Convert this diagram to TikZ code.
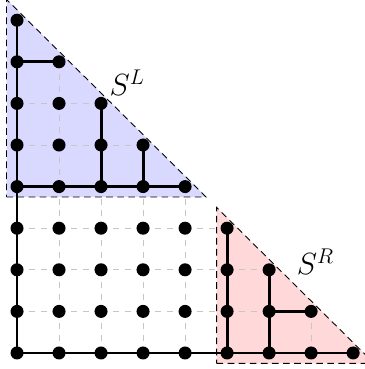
\documentclass[tikz,border=0pt]{standalone}
\usepackage{amsmath}
\usetikzlibrary{arrows.meta}

\tikzset{
  punto/.style={circle,fill=black,inner sep=0pt,minimum size=0.31cm},
  rejilla/.style={gray!45,line width=0.6pt,dash pattern=on 4pt off 4pt},
  arbol/.style={black,line width=2pt},
  region/.style={line width=0.6pt,dash pattern=on 4.5pt off 3pt},
  etiqueta/.style={font=\fontsize{21}{24}\selectfont}
}

\begin{document}
\begin{tikzpicture}[x=1cm,y=0.99cm]
  \useasboundingbox (-0.405,-0.385) rectangle (8.262,8.486);
  % regiones triangulares
  \filldraw[region,fill=blue!15] (-0.25,3.75) -- (4.5,3.75) -- (-0.25,8.5) -- cycle;
  \filldraw[region,fill=red!15] (4.75,-0.25) -- (8.5,-0.25) -- (4.75,3.5) -- cycle;
  % puntos de la escalera i+j<=8
  \foreach \i in {0,...,8}{
    \pgfmathtruncatemacro{\jmax}{8-\i}
    \foreach \j in {0,...,\jmax}{ \coordinate (p-\i-\j) at (\i,\j); }}
  % rejilla punteada
  \foreach \i in {0,...,7}{
    \pgfmathtruncatemacro{\jmax}{7-\i}
    \foreach \j in {0,...,\jmax}{
      \pgfmathtruncatemacro{\ii}{\i+1} \pgfmathtruncatemacro{\jj}{\j+1}
      \draw[rejilla] (p-\i-\j) -- (p-\ii-\j);
      \draw[rejilla] (p-\i-\j) -- (p-\i-\jj);}}
  % arbol
  \draw[arbol] (p-0-0) -- (p-0-8);
  \draw[arbol] (p-0-0) -- (p-8-0);
  \draw[arbol] (p-0-4) -- (p-4-4);
  \draw[arbol] (p-0-7) -- (p-1-7);
  \draw[arbol] (p-2-4) -- (p-2-6);
  \draw[arbol] (p-3-4) -- (p-3-5);
  \draw[arbol] (p-5-0) -- (p-5-3);
  \draw[arbol] (p-6-0) -- (p-6-2);
  \draw[arbol] (p-6-1) -- (p-7-1);
  % nodos
  \foreach \i in {0,...,8}{
    \pgfmathtruncatemacro{\jmax}{8-\i}
    \foreach \j in {0,...,\jmax}{ \node[punto] (d-\i-\j) at (p-\i-\j) {}; }}
  \node[etiqueta] (SL) at (2.62,6.5) {$S^L$};
  \node[etiqueta] (SR) at (7.1,2.2) {$S^R$};
\end{tikzpicture}
\end{document}
